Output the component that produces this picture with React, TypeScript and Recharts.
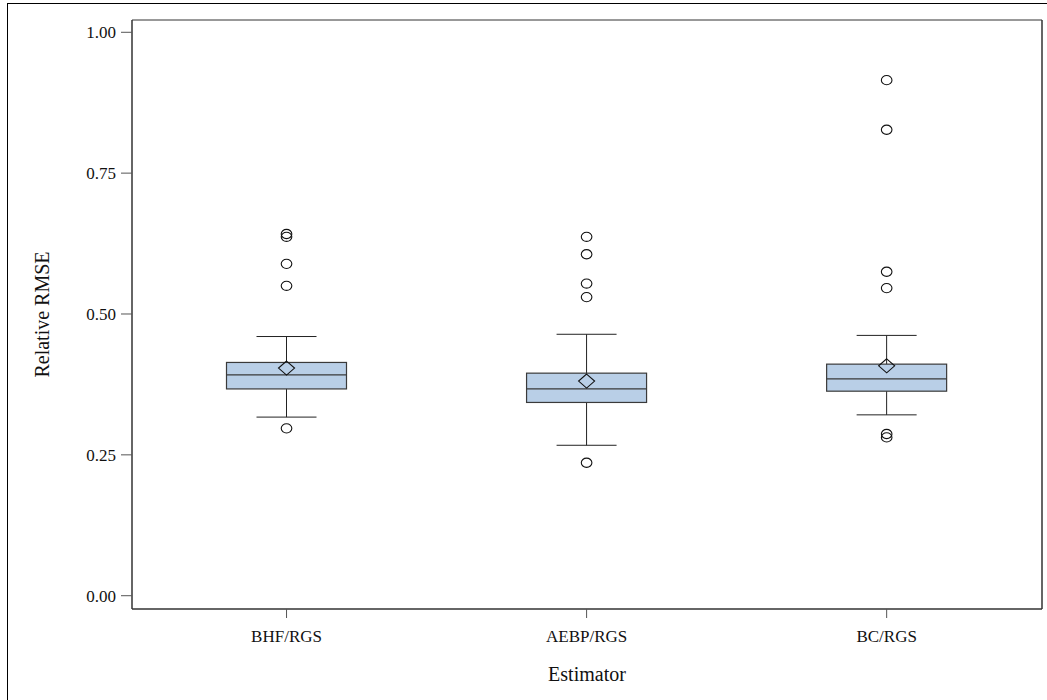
import {
  ComposedChart,
  Bar,
  Scatter,
  XAxis,
  YAxis,
} from 'recharts'

// estimator categories
const categories = ['BHF/RGS', 'AEBP/RGS', 'BC/RGS']

// box plot summary values
const lowerWhisker = [0.317, 0.267, 0.321]
const q1 = [0.367, 0.343, 0.363]
const median = [0.392, 0.367, 0.385]
const q3 = [0.414, 0.395, 0.411]
const upperWhisker = [0.46, 0.464, 0.462]
const means = [0.404, 0.381, 0.408]

const outliers = [
  [0.642, 0.637, 0.589, 0.55, 0.297],
  [0.637, 0.606, 0.554, 0.53, 0.236],
  [0.915, 0.827, 0.575, 0.546, 0.287, 0.281],
]

const yTicks = [0, 0.25, 0.5, 0.75, 1]

const W = 1047
const H = 700
const FONT = '"Liberation Serif", "Times New Roman", serif'
const BOX_FILL = '#b9cfe7'
const BOX_STROKE = '#3a3a3a'

const rows = categories.map((name, i) => ({
  name,
  lo: lowerWhisker[i],
  q1: q1[i],
  med: median[i],
  q3: q3[i],
  hi: upperWhisker[i],
  mean: means[i],
}))

const outlierPoints = categories.flatMap((name, i) =>
  outliers[i].map((value) => ({ name, value })),
)

// whole box drawn from the whisker range bar: pixels per unit come from the bar itself
function BoxShape(props: any) {
  const { x, y, width, height, payload } = props
  const top = Math.min(y, y + height)
  const h = Math.abs(height)
  const k = h / (payload.hi - payload.lo)
  const py = (v: number) => top + (payload.hi - v) * k
  const cx = x + width / 2
  const capHalf = width / 4
  return (
    <g>
      <line x1={cx} x2={cx} y1={py(payload.hi)} y2={py(payload.lo)} stroke="#222" strokeWidth={1} />
      <line x1={cx - capHalf} x2={cx + capHalf} y1={py(payload.hi)} y2={py(payload.hi)} stroke="#222" strokeWidth={1} />
      <line x1={cx - capHalf} x2={cx + capHalf} y1={py(payload.lo)} y2={py(payload.lo)} stroke="#222" strokeWidth={1} />
      <rect
        x={x}
        y={py(payload.q3)}
        width={width}
        height={py(payload.q1) - py(payload.q3)}
        fill={BOX_FILL}
        stroke={BOX_STROKE}
        strokeWidth={1.2}
      />
      <line x1={x} x2={x + width} y1={py(payload.med)} y2={py(payload.med)} stroke={BOX_STROKE} strokeWidth={1.2} />
    </g>
  )
}

function Diamond(props: any) {
  const { cx, cy } = props
  return (
    <path
      d={`M${cx},${cy - 7} L${cx + 8},${cy} L${cx},${cy + 7} L${cx - 8},${cy} Z`}
      fill="none"
      stroke="#111"
      strokeWidth={1.1}
    />
  )
}

function Ring(props: any) {
  const { cx, cy } = props
  return <ellipse cx={cx} cy={cy} rx={5.3} ry={4.6} fill="none" stroke="#111" strokeWidth={1.1} />
}

export default function App() {
  return (
    <div
      style={{
        position: 'absolute',
        left: 0,
        top: 0,
        width: W,
        height: H,
        background: '#fff',
        boxSizing: 'border-box',
        paddingLeft: 7,
        paddingTop: 3,
      }}
    >
      <div
        style={{
          width: W - 7,
          height: H - 3,
          borderTop: '1px solid #000',
          borderLeft: '1px solid #000',
          position: 'relative',
        }}
      >
        <div style={{ position: 'absolute', left: -8, top: -4 }}>
          <ComposedChart
            width={W}
            height={H}
            data={rows}
            margin={{ top: 19, right: 4, bottom: 0, left: 0 }}
            style={{ fontFamily: FONT }}
          >
            <XAxis
              dataKey="name"
              type="category"
              allowDuplicatedCategory={false}
              padding={{ left: 4.5, right: 5.3 }}
              height={91}
              axisLine={{ stroke: '#333', strokeWidth: 1.5 }}
              tickLine={{ stroke: '#555' }}
              tickSize={9}
              tickMargin={12}
              tick={{ fill: '#111', fontSize: 17, fontFamily: FONT }}
              label={({ viewBox }: any) => (
                <text
                  x={viewBox.x + viewBox.width / 2}
                  y={viewBox.y + 72}
                  textAnchor="middle"
                  fontSize={20}
                  fontFamily={FONT}
                  fill="#111"
                >
                  Estimator
                </text>
              )}
            />
            <XAxis
              xAxisId="top"
              dataKey="name"
              orientation="top"
              height={1}
              tick={false}
              tickLine={false}
              axisLine={{ stroke: '#333' }}
            />
            <YAxis
              type="number"
              domain={[-0.0236, 1.0218]}
              allowDataOverflow
              ticks={yTicks}
              tickFormatter={(v: number) => v.toFixed(2)}
              width={132}
              axisLine={{ stroke: '#333', strokeWidth: 1.5 }}
              tickLine={{ stroke: '#555' }}
              tickSize={11}
              tickMargin={5}
              tick={{ fill: '#111', fontSize: 17, fontFamily: FONT }}
              label={({ viewBox }: any) => {
                const lx = viewBox.x + 42
                const ly = viewBox.y + viewBox.height / 2
                return (
                  <text
                    x={lx}
                    y={ly}
                    transform={`rotate(-90, ${lx}, ${ly})`}
                    textAnchor="middle"
                    dominantBaseline="central"
                    fontSize={20}
                    fontFamily={FONT}
                    fill="#111"
                  >
                    Relative RMSE
                  </text>
                )
              }}
            />
            <YAxis
              yAxisId="right"
              orientation="right"
              width={1}
              tick={false}
              tickLine={false}
              axisLine={{ stroke: '#333', strokeWidth: 1.5 }}
            />
            <Bar
              dataKey={(d: any) => [d.lo, d.hi]}
              barSize={120}
              shape={BoxShape}
              isAnimationActive={false}
            />
            <Scatter dataKey="mean" shape={Diamond} isAnimationActive={false} />
            <Scatter data={outlierPoints} dataKey="value" shape={Ring} isAnimationActive={false} />
          </ComposedChart>
        </div>
      </div>
    </div>
  )
}
